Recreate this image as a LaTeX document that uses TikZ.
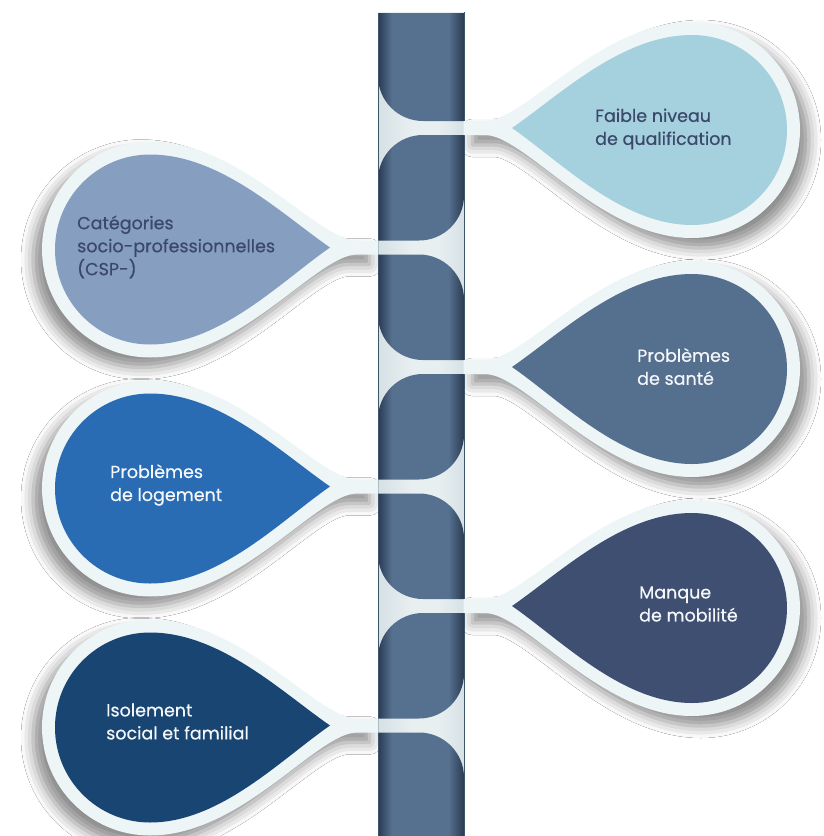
\documentclass[tikz,border=0pt]{standalone}
\usepackage{fontspec}
\setmainfont{Poppins}
\newfontfamily\lblfont{Poppins}[FakeBold=0.5]
\usetikzlibrary{shadows.blur}
\definecolor{bdark}{HTML}{2A3B52}
\definecolor{bmid}{HTML}{56708F}
\definecolor{lside}{HTML}{D6E1E5}
\definecolor{lmid}{HTML}{E8EFF1}
\definecolor{barline}{HTML}{3E5570}
\definecolor{band}{HTML}{EDF5F7}
\definecolor{cA}{HTML}{A4D1DD}
\definecolor{cB}{HTML}{869FC0}
\definecolor{cC}{HTML}{55708F}
\definecolor{cD}{HTML}{296CB3}
\definecolor{cE}{HTML}{3F4F72}
\definecolor{cF}{HTML}{184572}
\definecolor{tdark}{HTML}{3B486C}
\definecolor{tlight}{HTML}{F4F6F9}
\pgfdeclarehorizontalshading{barshade}{100bp}{color(0bp)=(bdark); color(25bp)=(bdark); color(33bp)=(bmid); color(66bp)=(bmid); color(75bp)=(bdark); color(100bp)=(bdark)}
\pgfdeclarehorizontalshading{lightshade}{100bp}{color(0bp)=(lside); color(25bp)=(lside); color(45bp)=(lmid); color(60bp)=(lmid); color(75bp)=(lside); color(100bp)=(lside)}
% outer teardrop (band) paths
\newcommand\outerR[1]{(463.5,#1-7) -- (485,#1-7) .. controls (525,#1-7) and (600,#1-106) .. (692,#1-106) arc[start angle=-90,end angle=90,radius=108] .. controls (600,#1+110) and (525,#1+7) .. (485,#1+7) -- (463.5,#1+7) -- cycle}
\newcommand\outerL[1]{(378.5,#1-7) -- (357,#1-7) .. controls (317,#1-7) and (242,#1-106) .. (150,#1-106) arc[start angle=-90,end angle=-270,radius=108] .. controls (242,#1+110) and (317,#1+7) .. (357,#1+7) -- (378.5,#1+7) -- cycle}
\newcommand\innerR[1]{(512,#1) .. controls (561,#1-34) and (622,#1-93) .. (692,#1-93) arc[start angle=-90,end angle=90,radius=95] .. controls (622,#1+97) and (561,#1+34) .. (512,#1) -- cycle}
\newcommand\innerL[1]{(330,#1) .. controls (281,#1-34) and (220,#1-93) .. (150,#1-93) arc[start angle=-90,end angle=-270,radius=95] .. controls (220,#1+97) and (281,#1+34) .. (330,#1) -- cycle}
% bar segment: top, bottom, r_tl, r_tr, r_br, r_bl
\newcommand\barseg[6]{\shade[shading=barshade] (378,#1+#3) arc[start angle=180,end angle=270,radius=#3] -- (464-#4,#1) arc[start angle=-90,end angle=0,radius=#4] -- (464,#2-#5) arc[start angle=0,end angle=90,radius=#5] -- (378+#6,#2) arc[start angle=90,end angle=180,radius=#6] -- cycle;}
\tikzset{
  shR/.style={blur shadow={shadow xshift=9pt,shadow yshift=-10pt,shadow blur radius=12pt,shadow opacity=45}},
  shL/.style={blur shadow={shadow xshift=-9pt,shadow yshift=-10pt,shadow blur radius=12pt,shadow opacity=45}},
  lbl/.style={anchor=west,align=left,inner sep=0pt,font=\lblfont\fontsize{17.5}{23}\selectfont},
}
\begin{document}
\begin{tikzpicture}[x=1pt,y=-1pt]
\useasboundingbox (0,0) rectangle (824,836);
\fill[white] (0,0) rectangle (824,836);
% shadows
\path[shR] \outerR{128};
\path[shL] \outerL{247.5};
\path[shR] \outerR{367};
\path[shL] \outerL{486.5};
\path[shR] \outerR{606};
\path[shL] \outerL{725.5};
% bar
\shade[shading=lightshade] (378,12) rectangle (464,836);
\barseg{12}{121}{0.01}{0.01}{0.01}{45}
\barseg{135}{240.5}{45}{0.01}{45}{0.01}
\barseg{254.5}{360}{0.01}{45}{0.01}{45}
\barseg{374}{479.5}{45}{0.01}{45}{0.01}
\barseg{493.5}{599}{0.01}{45}{0.01}{45}
\barseg{613}{718.5}{45}{0.01}{45}{0.01}
\barseg{732.5}{837}{0.01}{45}{0.01}{0.01}
\draw[barline,line width=0.8pt] (378,12) -- (378,836) (464,12) -- (464,836);
\draw[lmid,line width=0.8pt] (378.4,12.2) -- (463.6,12.2);
% outer bands
\fill[band] \outerR{128};
\fill[band] \outerL{247.5};
\fill[band] \outerR{367};
\fill[band] \outerL{486.5};
\fill[band] \outerR{606};
\fill[band] \outerL{725.5};
% inner drops
\fill[cA] \innerR{128};
\fill[cB] \innerL{247.5};
\fill[cC] \innerR{367};
\fill[cD] \innerL{486.5};
\fill[cE] \innerR{606};
\fill[cF] \innerL{725.5};
% labels
\node[lbl,text=tdark] (t1) at (595,129) {Faible niveau\\de qualification};
\node[lbl,text=tdark] (t2) at (77,247) {Catégories\\socio-professionnelles\\(CSP-)};
\node[lbl,text=tlight] (t3) at (637,366.5) {Problèmes\\de santé};
\node[lbl,text=tlight] (t4) at (110,485) {Problèmes\\de logement};
\node[lbl,text=tlight] (t5) at (639,604) {Manque\\de mobilité};
\node[lbl,text=tlight] (t6) at (106,721.5) {Isolement\\social et familial};
\end{tikzpicture}
\end{document}
